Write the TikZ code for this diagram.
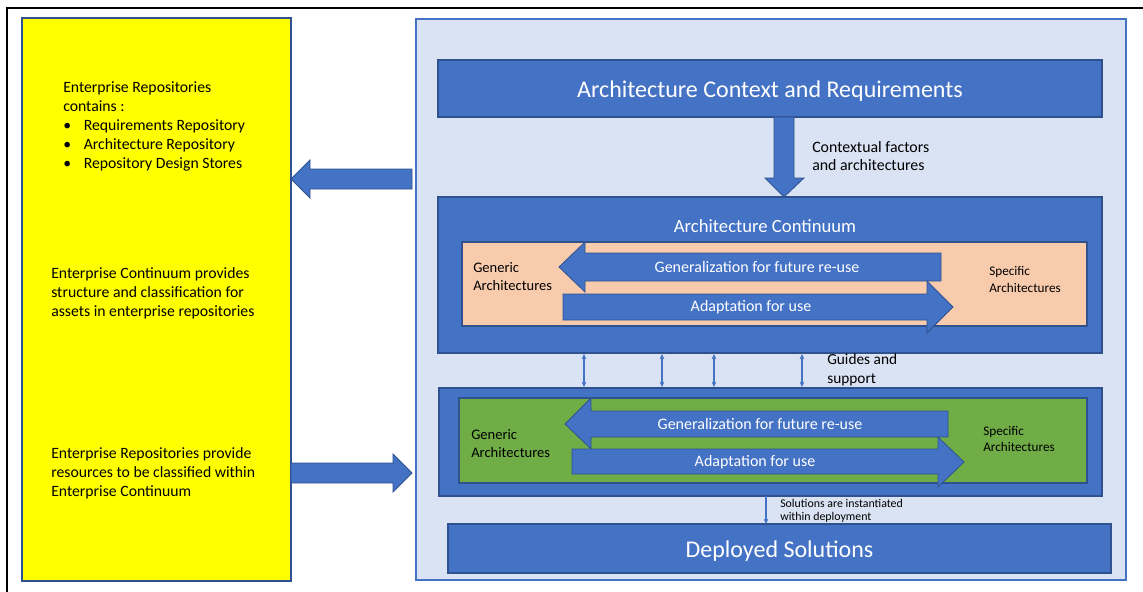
\documentclass[tikz,border=0pt]{standalone}
\usepackage{fontspec}
\setmainfont{Carlito}
\usetikzlibrary{arrows.meta,fit}
\definecolor{bfill}{HTML}{4472C4}
\definecolor{bline}{HTML}{2F528F}
\definecolor{pale}{HTML}{DAE3F3}
\definecolor{peach}{HTML}{F8CBAD}
\definecolor{grn}{HTML}{70AD47}
\definecolor{yel}{HTML}{FFFF00}
\begin{document}
\begin{tikzpicture}[x=0.75pt,y=-0.75pt,
  box/.style={draw=bline,line width=0.8pt,inner sep=0pt},
  bluebox/.style={box,fill=bfill},
  blockarrow/.style={fill=bfill,draw=bline,line width=0.6pt},
  thinarrow/.style={draw=bfill,line width=0.8pt},
  plain/.style={inner sep=0pt,align=left},
  ytext/.style={plain,anchor=north west,font=\fontsize{11.8}{14.25}\selectfont},
  wtext/.style={inner sep=0pt,text=white,font=\fontsize{12}{14}\selectfont},
  htext/.style={inner sep=0pt,text=white,font=\fontsize{18}{20}\selectfont}
]
\useasboundingbox (0,0) rectangle (1143,592);
\fill[white] (0,0) rectangle (1143,592);
% outer frame
\draw[line width=2.2pt] (7,600) -- (7,8) -- (1150,8);

% yellow box
\node[box,fill=yel,fit={(22,18)(291,581)}] (yellow) {};
\node[ytext] (t1) at (63,81) {Enterprise Repositories\\contains :\\
  \textbullet\hspace{9.5pt}Requirements Repository\\
  \textbullet\hspace{9.5pt}Architecture Repository\\
  \textbullet\hspace{9.5pt}Repository Design Stores};
\node[ytext] (t2) at (51,267) {Enterprise Continuum provides\\structure and classification for\\assets in enterprise repositories};
\node[ytext] (t3) at (51,447) {Enterprise Repositories provide\\resources to be classified within\\Enterprise Continuum};

% pale container
\node[box,draw=bfill,fill=pale,fit={(416,19)(1126,580)}] (cont) {};

% top box
\node[bluebox,fit={(438,60)(1102,117)}] (ctx) {};
\node[htext] (ctxt) at ([yshift=-2pt]ctx.center) {Architecture Context and Requirements};

% architecture continuum
\node[bluebox,fit={(438,197)(1102,353)}] (ac) {};
\node[wtext,font=\fontsize{14}{16}\selectfont] (actitle) at (765,226) {Architecture Continuum};
\node[box,fill=peach,fit={(462,242)(1087,326)}] (peachbox) {};

% left block arrow (peach)
\draw[blockarrow] (941,253) -- (585,253) -- (585,242) -- (559,267) -- (585,292) -- (585,281) -- (941,281) -- cycle;
% right block arrow (peach)
\draw[blockarrow] (563,294) -- (927,294) -- (927,281) -- (953,307) -- (927,333) -- (927,320) -- (563,320) -- cycle;
\node[wtext] (g1) at (757,267) {Generalization for future re-use};
\node[wtext] (a1) at (751,307) {Adaptation for use};
\node[plain,anchor=west,font=\fontsize{10.9}{13.5}\selectfont] (gen1) at (473,277) {Generic\\Architectures};
\node[plain,anchor=west,font=\fontsize{9.9}{12.5}\selectfont] (spec1) at (989,279.5) {Specific\\Architectures};

% down block arrow
\draw[blockarrow] (774,117) -- (794,117) -- (794,178) -- (804,178) -- (784,197) -- (765,178) -- (774,178) -- cycle;
\node[plain,anchor=west,font=\fontsize{11.9}{14}\selectfont] (ctxlab) at (812,156) {Contextual factors\\and architectures};

% lower continuum box
\node[bluebox,fit={(439,388)(1102,496)}] (sc) {};
\node[box,fill=grn,fit={(459,398)(1087,483)}] (greenbox) {};
\draw[blockarrow] (948,411) -- (591,411) -- (591,398) -- (565,424) -- (591,449) -- (591,437) -- (948,437) -- cycle;
\draw[blockarrow] (572,449) -- (938,449) -- (938,437) -- (964,462) -- (938,487) -- (938,474) -- (572,474) -- cycle;
\node[wtext] (g2) at (760,424) {Generalization for future re-use};
\node[wtext] (a2) at (755,462) {Adaptation for use};
\node[plain,anchor=west,font=\fontsize{10.9}{13.5}\selectfont] (gen2) at (471,444) {Generic\\Architectures};
\node[plain,anchor=west,font=\fontsize{9.9}{12.5}\selectfont] (spec2) at (983,439) {Specific\\Architectures};

% guides and support arrows
\foreach \gx [count=\i] in {584,662,714,802}{
  \coordinate (gt\i) at (\gx,354);
  \coordinate (gb\i) at (\gx,387);
  \draw[thinarrow,{Stealth[length=4pt,width=3.5pt]}-{Stealth[length=4pt,width=3.5pt]}] (gt\i) -- (gb\i);
}
\node[plain,anchor=west,font=\fontsize{11.5}{14.5}\selectfont] (guides) at (827,370) {Guides and\\support};

% deployed solutions
\node[bluebox,fit={(448,524)(1111,573)}] (dep) {};
\node[htext] (deptext) at ([yshift=-2pt]dep.center) {Deployed Solutions};
\coordinate (s1) at (766,496);
\coordinate (s2) at (766,524);
\draw[thinarrow,-{Stealth[length=4pt,width=3.5pt]}] (s1) -- (s2);
\node[plain,anchor=west,font=\fontsize{8.9}{10}\selectfont] (sollab) at (780,511) {Solutions are instantiated\\within deployment};

% side arrows
\draw[blockarrow] (412,169) -- (310,169) -- (310,160) -- (291,179) -- (310,198) -- (310,189) -- (412,189) -- cycle;
\draw[blockarrow] (291,463) -- (393,463) -- (393,454) -- (412,473) -- (393,492) -- (393,483) -- (291,483) -- cycle;
\end{tikzpicture}
\end{document}
